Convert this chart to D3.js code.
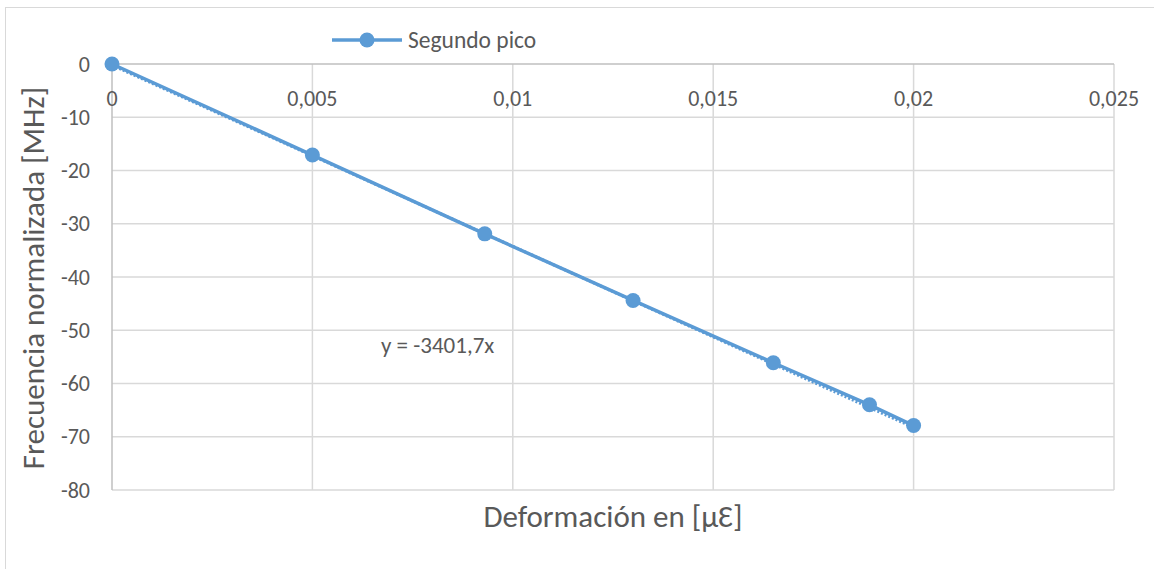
<!DOCTYPE html>
<html>
<head>
<meta charset="utf-8">
<script src="https://cdn.jsdelivr.net/npm/d3@7"></script>
<style>
  html, body { margin: 0; padding: 0; background: #fff; }
  svg text { font-family: Carlito, Calibri, Lato, "Open Sans", sans-serif; fill: #595959; }
</style>
</head>
<body>
<div id="chart"></div>
<script>
const width = 1154;
const height = 569;

// Segundo pico: deformación vs. frecuencia normalizada
const strain = [0, 0.005, 0.0093, 0.013, 0.0165, 0.0189, 0.02];
const freq = [0, -17.1, -31.9, -44.4, -56.1, -64.0, -67.9];
const xTicks = [0, 0.005, 0.01, 0.015, 0.02, 0.025];
const yTicks = [0, -10, -20, -30, -40, -50, -60, -70, -80];
const slope = -3401.7; // trendline, intercept 0

const seriesName = "Segundo pico";
const trendLabel = "y = -3401,7x";
const xTitle = "Deformación en [μƐ]";
const yTitle = "Frecuencia normalizada [MHz]";

const colour = "#5b9bd5";
const grid = "#d9d9d9";

const margin = {top: 64, right: 40, bottom: 79, left: 112};

const svg = d3.select("#chart").append("svg")
    .attr("width", width)
    .attr("height", height);

// chart border
svg.append("rect")
    .attr("x", 5.5).attr("y", 7.5)
    .attr("width", width + 10).attr("height", height + 10)
    .attr("fill", "none")
    .attr("stroke", grid);

const x = d3.scaleLinear().domain([0, 0.025]).range([margin.left, width - margin.right]);
const y = d3.scaleLinear().domain([-80, 0]).range([height - margin.bottom, margin.top]);

const fmt = d => String(d).replace(".", ",");

// gridlines
svg.append("g").selectAll("line")
    .data(xTicks.slice(1)).enter()
    .append("line")
      .attr("x1", d => x(d)).attr("x2", d => x(d))
      .attr("y1", y(0)).attr("y2", y(-80))
      .attr("stroke", grid).attr("stroke-width", 1.5);

svg.append("g").selectAll("line")
    .data(yTicks.slice(1)).enter()
    .append("line")
      .attr("x1", x(0)).attr("x2", x(0.025))
      .attr("y1", d => y(d)).attr("y2", d => y(d))
      .attr("stroke", grid).attr("stroke-width", 1.5);

// axis lines (value axis at x=0, category axis at y=0)
svg.append("line")
    .attr("x1", x(0)).attr("x2", x(0))
    .attr("y1", y(0)).attr("y2", y(-80))
    .attr("stroke", "#bfbfbf").attr("stroke-width", 1.5);
svg.append("line")
    .attr("x1", x(0)).attr("x2", x(0.025))
    .attr("y1", y(0)).attr("y2", y(0))
    .attr("stroke", "#bfbfbf").attr("stroke-width", 1.5);

// tick labels
svg.append("g").selectAll("text")
    .data(xTicks).enter()
    .append("text")
      .attr("x", d => x(d))
      .attr("y", y(0) + 42)
      .attr("text-anchor", "middle")
      .style("font-size", "22px")
      .text(fmt);

svg.append("g").selectAll("text")
    .data(yTicks).enter()
    .append("text")
      .attr("x", x(0) - 22)
      .attr("y", d => y(d))
      .attr("dy", "0.35em")
      .attr("text-anchor", "end")
      .style("font-size", "22px")
      .text(d => d);

// axis titles
svg.append("text")
    .attr("x", (x(0) + x(0.025)) / 2)
    .attr("y", 527)
    .attr("text-anchor", "middle")
    .style("font-size", "31px")
    .text(xTitle);

svg.append("text")
    .attr("transform", "translate(44,278) rotate(-90)")
    .attr("text-anchor", "middle")
    .style("font-size", "31px")
    .text(yTitle);

// trendline (dotted, under the series)
const xMax = d3.max(strain);
svg.append("line")
    .attr("x1", x(0)).attr("y1", y(0))
    .attr("x2", x(xMax)).attr("y2", y(slope * xMax))
    .attr("stroke", colour).attr("stroke-width", 3)
    .attr("stroke-dasharray", "2,2")
    .attr("transform", "translate(0,1.2)");

// series line + markers
const pts = strain.map((s, i) => [s, freq[i]]);
svg.append("path")
    .datum(pts)
    .attr("fill", "none")
    .attr("stroke", colour)
    .attr("stroke-width", 3.5)
    .attr("stroke-linejoin", "round")
    .attr("d", d3.line().x(d => x(d[0])).y(d => y(d[1])));

svg.append("g").selectAll("circle")
    .data(pts).enter()
    .append("circle")
      .attr("cx", d => x(d[0]))
      .attr("cy", d => y(d[1]))
      .attr("r", 7.5)
      .attr("fill", colour);

// trendline label
svg.append("text")
    .attr("x", 381)
    .attr("y", 353)
    .style("font-size", "23px")
    .text(trendLabel);

// legend
const lg = svg.append("g").attr("transform", "translate(332,40)");
lg.append("line")
    .attr("x1", 0).attr("x2", 70)
    .attr("stroke", colour).attr("stroke-width", 3.5);
lg.append("circle").attr("cx", 35).attr("r", 7.5).attr("fill", colour);
lg.append("text")
    .attr("x", 76).attr("dy", "0.35em")
    .style("font-size", "23.5px")
    .text(seriesName);
</script>
</body>
</html>
